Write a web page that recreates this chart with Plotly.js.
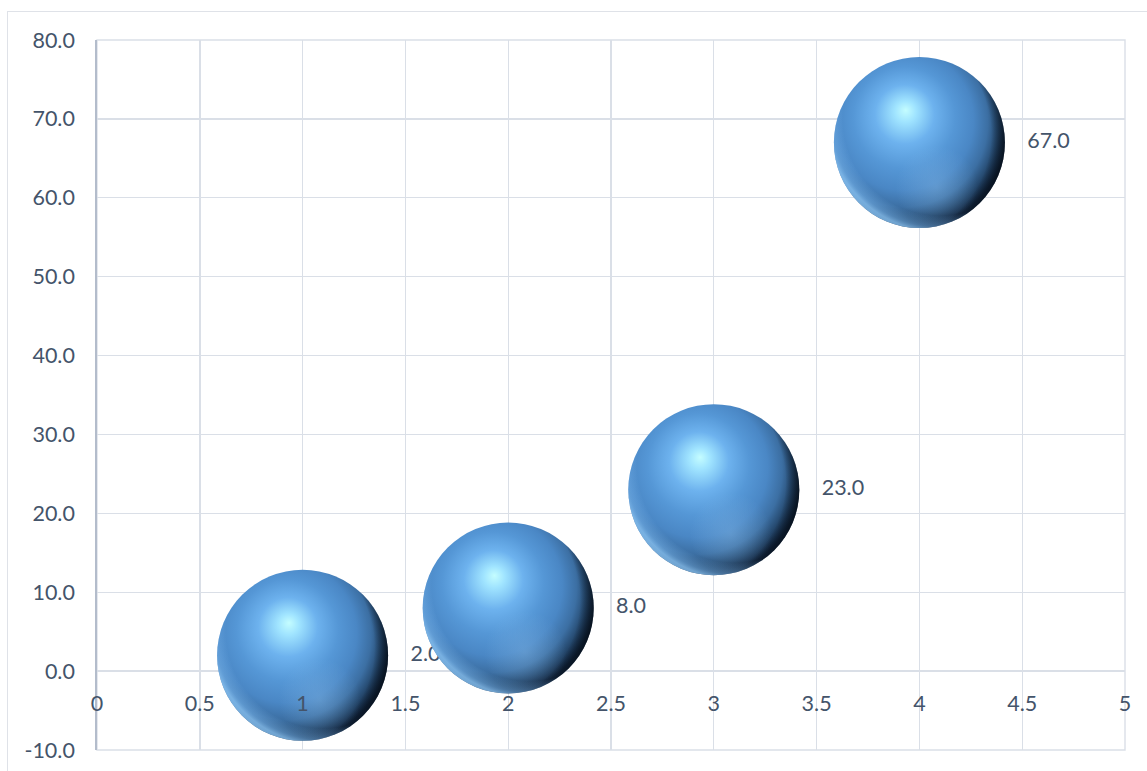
<!DOCTYPE html>
<html>
<head>
<meta charset="utf-8">
<script src="https://cdn.plot.ly/plotly-3.0.1.min.js"></script>
<style>
  html, body { margin: 0; padding: 0; background: #ffffff; }
  #frame {
    position: absolute; left: 7px; top: 11px; width: 1160px; height: 780px;
    border: 1.3px solid #dfe2e8; box-sizing: border-box;
  }
  #chart { position: absolute; left: 0; top: 0; width: 1147px; height: 771px; }
</style>
</head>
<body>
<div id="frame"></div>
<div id="chart"></div>
<script>
// Series values
const xValues = [1, 2, 3, 4];
const yValues = [2.0, 8.0, 23.0, 67.0];
const bubbleSizes = [1, 1, 1, 1];

// Axis settings and tick labels
const xRange = [0, 5];
const yRange = [-10, 80];
const yTickVals = [-10, 0, 10, 20, 30, 40, 50, 60, 70, 80];
const yTickLabels = ['-10.0', '0.0', '10.0', '20.0', '30.0', '40.0', '50.0', '60.0', '70.0', '80.0'];

const textColor = '#44546a';
const gridColor = '#dadfe7';
const fontFamily = 'Lato, "Open Sans", sans-serif';
const fontSize = 21.5;
const bubbleDiameter = 171;

// One trace per bubble so each later bubble sits over the earlier label
const traces = xValues.map((x, i) => ({
  type: 'scatter',
  mode: 'markers+text',
  x: [x],
  y: [yValues[i]],
  text: [yValues[i].toFixed(1)],
  textposition: 'middle right',
  textfont: { family: fontFamily, size: fontSize, color: textColor },
  marker: {
    size: [bubbleSizes[i] * bubbleDiameter],
    color: '#5597d5',
    opacity: 1,
    line: { width: 0 }
  },
  cliponaxis: false,
  hoverinfo: 'x+y',
  showlegend: false
}));

const layout = {
  width: 1147,
  height: 771,
  margin: { l: 97, r: 22, t: 40, b: 21 },
  paper_bgcolor: 'rgba(0,0,0,0)',
  plot_bgcolor: 'rgba(0,0,0,0)',
  font: { family: fontFamily, size: fontSize, color: textColor },
  showlegend: false,
  xaxis: {
    range: xRange,
    dtick: 0.5,
    tick0: 0,
    showgrid: true,
    gridcolor: gridColor,
    gridwidth: 1.4,
    zeroline: false,
    showline: false,
    anchor: 'free',
    // labels run along the y = 0 level
    position: (0 - yRange[0]) / (yRange[1] - yRange[0]),
    ticks: 'outside',
    ticklen: 13,
    tickcolor: 'rgba(0,0,0,0)',
    tickfont: { family: fontFamily, size: fontSize, color: textColor },
    fixedrange: true
  },
  yaxis: {
    range: yRange,
    tickmode: 'array',
    tickvals: yTickVals,
    ticktext: yTickLabels,
    showgrid: true,
    gridcolor: gridColor,
    gridwidth: 1.4,
    zeroline: false,
    showline: true,
    linecolor: '#b3bccb',
    linewidth: 1.8,
    ticks: 'outside',
    ticklen: 16,
    tickcolor: 'rgba(0,0,0,0)',
    tickfont: { family: fontFamily, size: fontSize, color: textColor },
    fixedrange: true
  },
  // outline of the plot area (edge gridlines)
  shapes: [{
    type: 'rect', xref: 'x domain', yref: 'y domain',
    x0: 0, x1: 1, y0: 0, y1: 1,
    line: { color: gridColor, width: 1.4 },
    fillcolor: 'rgba(0,0,0,0)',
    layer: 'below'
  }]
};

// Shaded sphere fills applied to the drawn marker paths
function addSphereShading(gd) {
  const svgNS = 'http://www.w3.org/2000/svg';
  const svg = gd.querySelector('svg.main-svg');
  let defs = svg.querySelector('defs');
  if (!defs) { defs = document.createElementNS(svgNS, 'defs'); svg.insertBefore(defs, svg.firstChild); }

  function radial(id, attrs, stops) {
    const g = document.createElementNS(svgNS, 'radialGradient');
    g.setAttribute('id', id);
    Object.keys(attrs).forEach(k => g.setAttribute(k, attrs[k]));
    stops.forEach(([off, col, op]) => {
      const s = document.createElementNS(svgNS, 'stop');
      s.setAttribute('offset', off);
      s.setAttribute('stop-color', col);
      s.setAttribute('stop-opacity', op === undefined ? 1 : op);
      g.appendChild(s);
    });
    defs.appendChild(g);
  }

  radial('sphereBase', { cx: 0.4, cy: 0.4, r: 0.62, fx: 0.42, fy: 0.31 }, [
    [0, '#c4fdff'], [0.1, '#a0e4ff'], [0.28, '#6db2ee'], [0.48, '#5597d6'],
    [0.66, '#4a87c5'], [0.8, '#3c6fa3'], [0.9, '#264a70'], [1, '#10223a']
  ]);
  radial('sphereRim', { cx: 0.62, cy: 0.36, r: 0.66 }, [
    [0, '#7ab8f0', 0], [0.86, '#7ab8f0', 0], [0.96, '#7ab8f0', 0.5], [1, '#8cc6f6', 0.75]
  ]);
  radial('sphereGlow', { cx: 0.6, cy: 0.76, r: 0.24 }, [
    [0, '#8fc2ee', 0.35], [1, '#8fc2ee', 0]
  ]);
  // deepest shadow along the right-hand edge
  radial('sphereEdge', { cx: 0.3, cy: 0.45, r: 0.72 }, [
    [0, '#050d16', 0], [0.86, '#050d16', 0], [1, '#050d16', 0.85]
  ]);

  gd.querySelectorAll('.scatterlayer .points path.point').forEach(p => {
    p.style.fill = 'url(#sphereBase)';
    p.style.fillOpacity = 1;
    p.style.opacity = 1;
    ['sphereGlow', 'sphereEdge', 'sphereRim'].forEach(id => {
      const c = p.cloneNode(false);
      c.style.fill = 'url(#' + id + ')';
      c.style.pointerEvents = 'none';
      p.parentNode.appendChild(c);
    });
  });
}

Plotly.newPlot('chart', traces, layout, { displayModeBar: false, staticPlot: true })
  .then(addSphereShading);
</script>
</body>
</html>
